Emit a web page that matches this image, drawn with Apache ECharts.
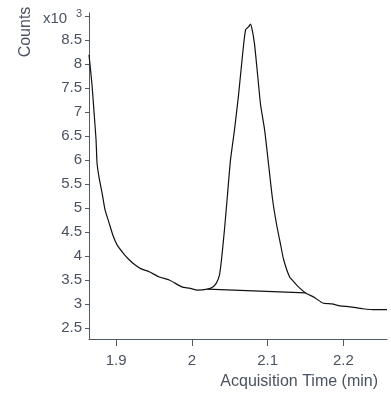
<!DOCTYPE html>
<html><head><meta charset="utf-8">
<script src="https://cdn.jsdelivr.net/npm/echarts@6/dist/echarts.min.js"></script>
<style>html,body{margin:0;padding:0;background:#fff}#c{width:391px;height:393px}</style>
</head><body><div id="c"></div>
<script>
// Acquisition time (min)
const times = [1.8642,1.8682,1.8709,1.8735,1.8748,1.8775,1.8815,1.8854,1.8907,1.8960,1.9013,1.9093,1.9172,1.9252,1.9331,1.9437,1.9570,1.9702,1.9874,1.9967,2.0073,2.0205,2.0272,2.0325,2.0364,2.0391,2.0430,2.0470,2.0510,2.0563,2.0616,2.0669,2.0709,2.0748,2.0775,2.0801,2.0828,2.0868,2.0907,2.0960,2.1013,2.1066,2.1119,2.1172,2.1212,2.1291,2.1358,2.1424,2.1503,2.1623,2.1728,2.1848,2.1954,2.2086,2.2258,2.2417,2.2576];
// Counts (x10^3)
const counts = [8.19,7.56,6.98,6.42,5.94,5.63,5.31,4.96,4.69,4.42,4.23,4.06,3.92,3.81,3.73,3.67,3.56,3.50,3.35,3.33,3.29,3.31,3.35,3.44,3.60,3.92,4.54,5.27,6.00,6.63,7.35,8.19,8.71,8.77,8.83,8.67,8.40,7.77,7.15,6.63,5.90,5.17,4.65,4.23,3.92,3.56,3.44,3.33,3.23,3.13,3.02,3.00,2.96,2.94,2.90,2.88,2.88];
// Integration baseline
const baseTimes = [2.0205, 2.1503];
const baseCounts = [3.31, 3.23];
const xTicks = [1.9, 2.0, 2.1, 2.2];
const yTicks = [2.5,3,3.5,4,4.5,5,5.5,6,6.5,7,7.5,8,8.5,9];
const yTickLabels = ['2.5','3','3.5','4','4.5','5','5.5','6','6.5','7','7.5','8','8.5',''];

const axisColor = '#525a68';
const textColor = '#4a5262';
const font = 'Liberation Sans, Arial, sans-serif';
const chart = echarts.init(document.getElementById('c'), null, {renderer:'canvas'});
chart.setOption({
  animation:false,
  grid:{left:89, right:4, top:13, bottom:54},
  xAxis:{type:'value', min:1.8642, max:2.2576,
    axisLine:{show:true, lineStyle:{color:axisColor, width:1}},
    axisTick:{show:true, length:7, inside:false, customValues:xTicks, lineStyle:{color:axisColor}},
    axisLabel:{customValues:xTicks, margin:14, color:textColor, fontSize:15, fontFamily:font,
      formatter:v=>(Math.round(v*10)/10).toString()},
    splitLine:{show:false}},
  yAxis:{type:'value', min:2.27, max:9.06,
    axisLine:{show:true, lineStyle:{color:axisColor, width:1}},
    axisTick:{show:true, length:4, customValues:yTicks, lineStyle:{color:axisColor}},
    axisLabel:{customValues:yTicks, margin:7, color:textColor, fontSize:15, fontFamily:font,
      formatter:v=>{const i=yTicks.findIndex(t=>Math.abs(t-v)<1e-6); return i>=0?yTickLabels[i]:'';}},
    splitLine:{show:false}},
  series:[
    {type:'line', data:times.map((t,i)=>[t,counts[i]]), symbol:'none', smooth:0.2,
     lineStyle:{color:'#111', width:1.2}},
    {type:'line', data:baseTimes.map((t,i)=>[t,baseCounts[i]]), symbol:'none',
     lineStyle:{color:'#111', width:1.2}}
  ],
  graphic:[
    {type:'text', x:26, y:32, rotation:Math.PI/2, style:{text:'Counts', fill:textColor, font:'16px '+font, align:'center', verticalAlign:'middle'}},
    {type:'text', x:55, y:19, style:{text:'x10', fill:textColor, font:'15px '+font, align:'center', verticalAlign:'middle'}},
    {type:'text', x:79, y:14, style:{text:'3', fill:textColor, font:'11px '+font, align:'center', verticalAlign:'middle'}},
    {type:'text', x:378, y:382, style:{text:'Acquisition Time (min)', fill:textColor, font:'16px '+font, align:'right', verticalAlign:'middle'}}
  ]
});
</script></body></html>
